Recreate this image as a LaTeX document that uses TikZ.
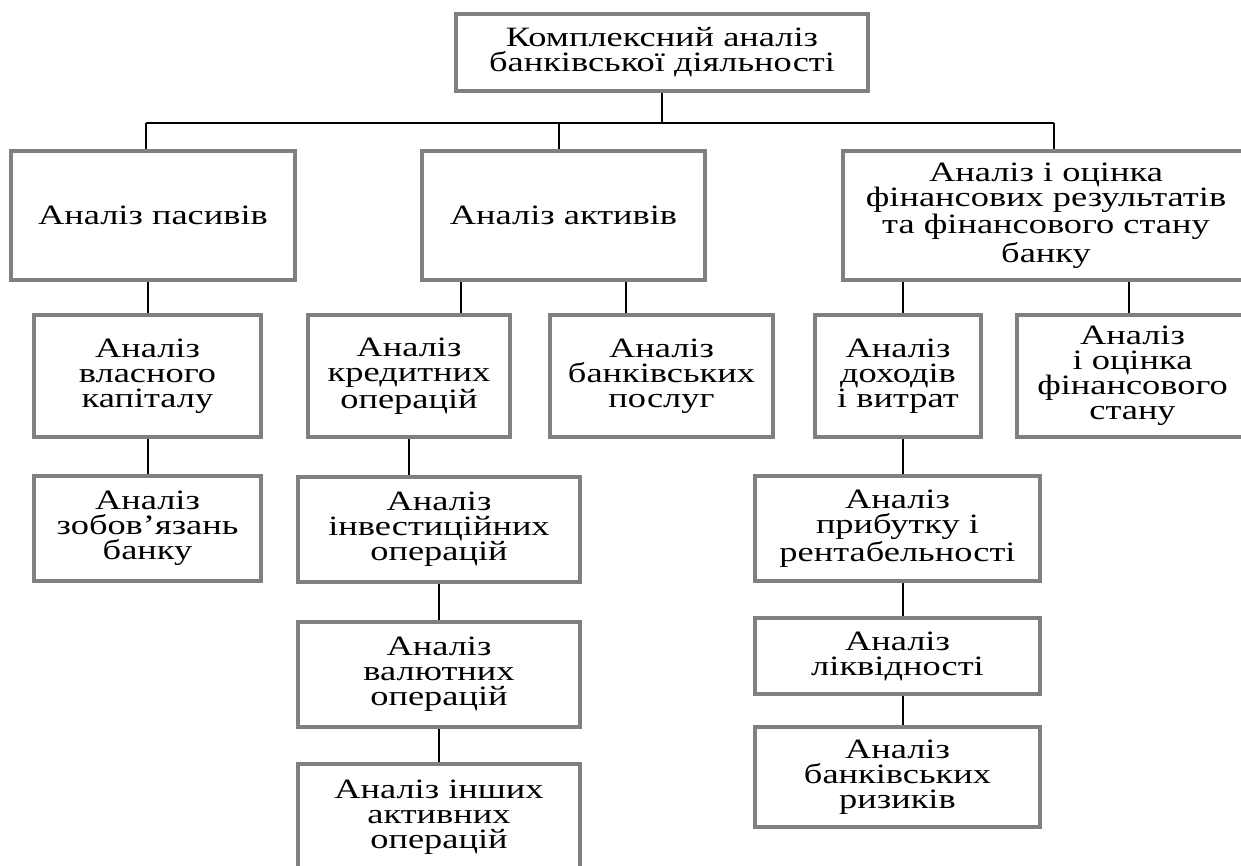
\documentclass[tikz,border=0pt]{standalone}
\usepackage{fontspec}
\setmainfont{Liberation Serif}[FakeStretch=1.3]
\usepackage{tikz}
\usepackage{xcolor}
\definecolor{boxgray}{RGB}{128,128,128}

\begin{document}
\begin{tikzpicture}[x=0.5pt, y=-0.5pt, font=\fontsize{14pt}{12.5pt}\selectfont,
    box/.style={draw=boxgray, line width=2pt, align=center, inner sep=0pt},
    link/.style={line width=1pt}]
  \useasboundingbox (0,0) rectangle (1241,866);
  \clip (0,0) rectangle (1241,866);
  \node[box, minimum width=206pt, minimum height=38.5pt] (kompl) at (662,52.5) {Комплексний аналіз\\банківської діяльності};
  \node[box, minimum width=142pt, minimum height=64.5pt] (pasyv) at (153,215.5) {Аналіз пасивів};
  \node[box, minimum width=141.5pt, minimum height=64.5pt] (aktyv) at (563.5,215.5) {Аналіз активів};
  \node[box, minimum width=203pt, minimum height=64.5pt] (finrez) at (1046,215.5) {Аналіз і оцінка\\фінансових результатів\\та фінансового стану\\банку};
  \node[box, minimum width=113.5pt, minimum height=61pt] (vlasn) at (147.5,376) {Аналіз\\власного\\капіталу};
  \node[box, minimum width=101pt, minimum height=61pt] (kredyt) at (409,376) {Аналіз\\кредитних\\операцій};
  \node[box, minimum width=111.5pt, minimum height=61pt] (poslug) at (661.5,376) {Аналіз\\банківських\\послуг};
  \node[box, minimum width=83pt, minimum height=61pt] (dohody) at (898,376) {Аналіз\\доходів\\і витрат};
  \node[box, minimum width=115.5pt, minimum height=61pt] (finstan) at (1132.5,376) {Аналіз\\і оцінка\\фінансового\\стану};
  \node[box, minimum width=113.5pt, minimum height=52.5pt] (zobov) at (147.5,528.5) {Аналіз\\зобов’язань\\банку};
  \node[box, minimum width=141pt, minimum height=52.5pt] (invest) at (439,529.5) {Аналіз\\інвестиційних\\операцій};
  \node[box, minimum width=142.5pt, minimum height=52.5pt] (prybut) at (897.5,528.5) {Аналіз\\прибутку і\\рентабельності};
  \node[box, minimum width=141pt, minimum height=52.5pt] (valut) at (439,674.5) {Аналіз\\валютних\\операцій};
  \node[box, minimum width=142.5pt, minimum height=38pt] (likvid) at (897.5,656) {Аналіз\\ліквідності};
  \node[box, minimum width=141pt, minimum height=53pt] (inshi) at (439,817) {Аналіз інших\\активних\\операцій};
  \node[box, minimum width=142.5pt, minimum height=50pt] (ryzyk) at (897.5,777) {Аналіз\\банківських\\ризиків};

  \coordinate (busL) at (146,123);
  \coordinate (busR) at (1054,123);
  \coordinate (a0) at ([xshift=-2.25pt]aktyv.north);
  \coordinate (a1) at ([xshift=26pt]kredyt.north);
  \coordinate (a2) at ([xshift=-17.75pt]poslug.north);
  \coordinate (f1) at ([xshift=2.5pt]dohody.north);
  \coordinate (f2) at ([xshift=-1.75pt]finstan.north);
  \draw[link] (kompl.south) -- (kompl.south |- busL);
  \draw[link] (busL) -- (busR);
  \draw[link] (busL) -- (busL |- pasyv.north);
  \draw[link] (a0) -- (a0 |- busL);
  \draw[link] (busR) -- (busR |- finrez.north);
  \draw[link] (vlasn.north) -- (vlasn.north |- pasyv.south);
  \draw[link] (vlasn.south) -- (zobov.north);
  \draw[link] (a1) -- (a1 |- aktyv.south);
  \draw[link] (a2) -- (a2 |- aktyv.south);
  \draw[link] (kredyt.south) -- (kredyt.south |- invest.north);
  \draw[link] (invest.south) -- (valut.north);
  \draw[link] (valut.south) -- (inshi.north);
  \draw[link] (f1) -- (f1 |- finrez.south);
  \draw[link] (f2) -- (f2 |- finrez.south);
  \draw[link] (dohody.south -| f1) -- (prybut.north -| f1);
  \draw[link] (prybut.south -| f1) -- (likvid.north -| f1);
  \draw[link] (likvid.south -| f1) -- (ryzyk.north -| f1);
\end{tikzpicture}
\end{document}
